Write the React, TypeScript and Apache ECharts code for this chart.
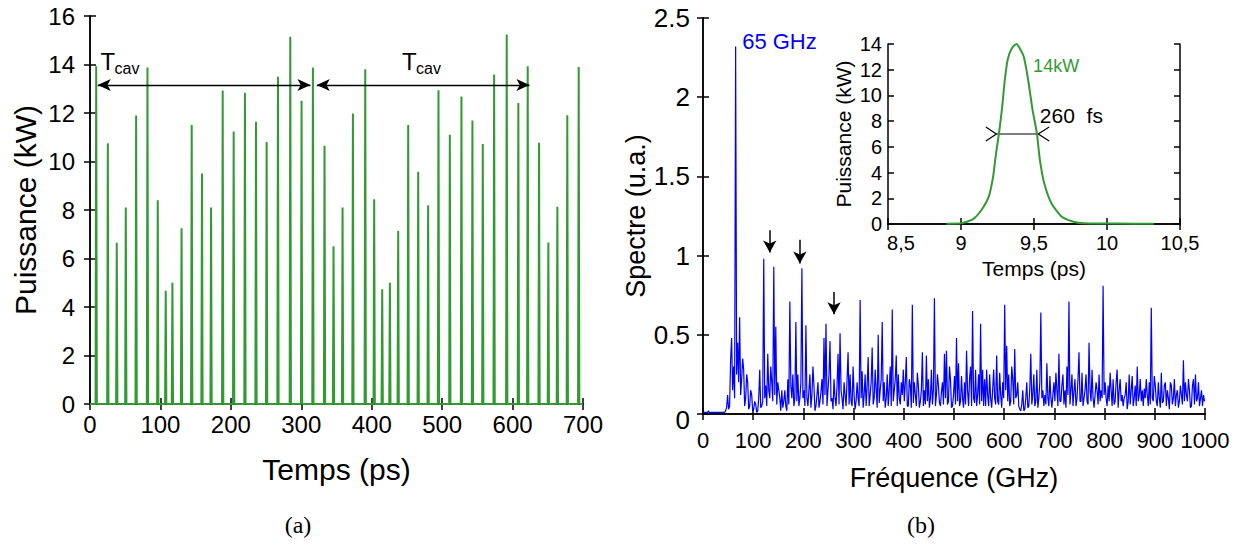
import React, { useEffect, useRef } from 'react';
import * as echarts from 'echarts';

// ---------- Data (a): pulse train ----------
const PULSE_TIMES = [
  8.8, 25.3, 38, 50.8, 65.5, 81.6, 96.2, 107.5, 117, 130, 144.4, 159, 171.9, 188.4, 204, 220,
  235.7, 250.8, 266.9, 284.4, 300.4, 316.5, 333, 345.8, 358.6, 373.3, 390.8, 403.5, 414.9, 425.8,
  437.6, 451.8, 466, 480.1, 494.8, 510.9, 527.4, 543, 557.7, 573.8, 591.7, 608.2, 621.5, 637.6,
  650.8, 663.6, 677.7, 693.9,
];
const PULSE_POWERS = [
  13.93, 10.75, 6.65, 8.1, 11.9, 13.88, 8.4, 4.67, 5.0, 7.25, 11.5, 9.5, 8.1, 12.93, 11.24, 12.83,
  11.64, 10.8, 13.49, 15.14, 12.5, 13.88, 10.65, 6.51, 8.1, 11.98, 13.8, 8.44, 4.73, 5.0,
  7.13, 11.51, 9.58, 8.2, 12.94, 11.1, 12.68, 11.69, 10.72, 13.59, 15.24, 12.41, 13.93, 10.77,
  6.66, 8.13, 11.91, 13.9,
];
const TCAV_SPANS = [[11, 313], [322, 624]];
const TCAV_Y = 13.15;

// ---------- Data (b): spectrum ----------
// values at 1, 5, 9, ... GHz
const SPEC_F0 = 1;
const SPEC_STEP = 4;
const SPECTRUM = [
  0.01, 0.01, 0.01, 0.005, 0.01, 0.01, 0.01, 0.01, 0.01, 0.01,
  0.01, 0.02, 0.12, 0.05, 0.48, 0.30, 2.32, 0.45, 0.61, 0.22,
  0.28, 0.10, 0.20, 0.05, 0.12, 0.03, 0.06, 0.02, 0.28, 0.05,
  0.98, 0.18, 0.38, 0.10, 0.20, 0.93, 0.55, 0.20, 0.10, 0.15,
  0.08, 0.05, 0.22, 0.71, 0.10, 0.05, 0.58, 0.25, 0.10, 0.92,
  0.15, 0.56, 0.05, 0.25, 0.12, 0.18, 0.05, 0.20, 0.08, 0.22,
  0.48, 0.57, 0.15, 0.46, 0.10, 0.22, 0.05, 0.38, 0.51, 0.10,
  0.20, 0.05, 0.39, 0.25, 0.05, 0.12, 0.08, 0.10, 0.72, 0.27,
  0.12, 0.05, 0.36, 0.12, 0.42, 0.10, 0.15, 0.50, 0.15, 0.58,
  0.20, 0.10, 0.05, 0.30, 0.66, 0.15, 0.37, 0.25, 0.06, 0.12,
  0.08, 0.36, 0.05, 0.18, 0.69, 0.20, 0.05, 0.18, 0.08, 0.39,
  0.15, 0.37, 0.22, 0.10, 0.06, 0.73, 0.12, 0.18, 0.05, 0.20,
  0.38, 0.40, 0.08, 0.22, 0.05, 0.24, 0.48, 0.32, 0.08, 0.10,
  0.20, 0.40, 0.05, 0.30, 0.65, 0.07, 0.05, 0.25, 0.57, 0.28,
  0.22, 0.28, 0.05, 0.10, 0.15, 0.10, 0.37, 0.06, 0.12, 0.20,
  0.69, 0.43, 0.25, 0.08, 0.22, 0.41, 0.12, 0.05, 0.02, 0.15,
  0.03, 0.20, 0.05, 0.38, 0.12, 0.05, 0.28, 0.10, 0.64, 0.15,
  0.12, 0.32, 0.05, 0.10, 0.12, 0.08, 0.15, 0.38, 0.08, 0.25,
  0.15, 0.30, 0.71, 0.15, 0.05, 0.22, 0.10, 0.39, 0.08, 0.05,
  0.15, 0.08, 0.45, 0.08, 0.10, 0.12, 0.15, 0.25, 0.15, 0.81,
  0.20, 0.05, 0.08, 0.15, 0.22, 0.08, 0.28, 0.15, 0.08, 0.05,
  0.12, 0.03, 0.25, 0.15, 0.05, 0.18, 0.30, 0.12, 0.08, 0.05,
  0.10, 0.12, 0.20, 0.67, 0.08, 0.18, 0.05, 0.10, 0.26, 0.08,
  0.20, 0.15, 0.03, 0.18, 0.10, 0.05, 0.15, 0.08, 0.12, 0.34,
  0.20, 0.08, 0.15, 0.05, 0.22, 0.25, 0.10, 0.05, 0.15, 0.12,
];
// values at 3, 7, 11, ... GHz (in between the above)
const SPECTRUM_MID = [
  0.01, 0.01, 0.02, 0.01, 0.01, 0.01, 0.01, 0.01, 0.01, 0.01,
  0.01, 0.04, 0.03, 0.34, 0.15, 0.10, 0.25, 0.20, 0.12, 0.35,
  0.05, 0.25, 0.03, 0.15, 0.02, 0.08, 0.01, 0.10, 0.04, 0.08,
  0.10, 0.05, 0.15, 0.30, 0.08, 0.12, 0.06, 0.15, 0.02, 0.04,
  0.15, 0.02, 0.06, 0.18, 0.25, 0.10, 0.08, 0.05, 0.20, 0.10,
  0.05, 0.10, 0.15, 0.04, 0.30, 0.02, 0.12, 0.04, 0.14, 0.06,
  0.12, 0.05, 0.25, 0.08, 0.03, 0.10, 0.18, 0.06, 0.15, 0.03,
  0.12, 0.22, 0.06, 0.08, 0.30, 0.03, 0.20, 0.05, 0.10, 0.04,
  0.25, 0.18, 0.05, 0.20, 0.06, 0.28, 0.04, 0.07, 0.22, 0.08,
  0.04, 0.25, 0.16, 0.05, 0.08, 0.22, 0.05, 0.10, 0.20, 0.28,
  0.20, 0.05, 0.22, 0.04, 0.07, 0.12, 0.26, 0.04, 0.15, 0.05,
  0.06, 0.08, 0.04, 0.28, 0.15, 0.05, 0.25, 0.07, 0.14, 0.06,
  0.10, 0.06, 0.30, 0.04, 0.12, 0.06, 0.08, 0.05, 0.24, 0.04,
  0.06, 0.15, 0.22, 0.05, 0.10, 0.28, 0.12, 0.06, 0.08, 0.05,
  0.05, 0.12, 0.25, 0.04, 0.28, 0.06, 0.08, 0.26, 0.04, 0.10,
  0.15, 0.08, 0.05, 0.30, 0.06, 0.10, 0.20, 0.03, 0.06, 0.02,
  0.10, 0.04, 0.16, 0.06, 0.25, 0.08, 0.04, 0.20, 0.10, 0.05,
  0.06, 0.10, 0.24, 0.04, 0.20, 0.26, 0.05, 0.08, 0.18, 0.06,
  0.04, 0.12, 0.06, 0.25, 0.14, 0.05, 0.22, 0.08, 0.26, 0.10,
  0.25, 0.06, 0.15, 0.28, 0.04, 0.20, 0.06, 0.08, 0.10, 0.12,
  0.10, 0.18, 0.26, 0.05, 0.06, 0.20, 0.04, 0.22, 0.12, 0.10,
  0.20, 0.08, 0.06, 0.24, 0.10, 0.05, 0.08, 0.22, 0.15, 0.16,
  0.22, 0.05, 0.06, 0.10, 0.24, 0.08, 0.20, 0.04, 0.07, 0.18,
  0.05, 0.10, 0.20, 0.06, 0.22, 0.12, 0.04, 0.18, 0.06, 0.08,
  0.12, 0.22, 0.04, 0.18, 0.06, 0.08, 0.20, 0.10, 0.05, 0.08,
];
// down arrows: [GHz, top, tip]
const SPEC_ARROWS = [[133, 1.16, 1.02], [193, 1.10, 0.95], [261, 0.77, 0.63]];

// ---------- Data inset: single pulse ----------
const INSET_T = [8.9, 9.0, 9.08, 9.14, 9.19, 9.22, 9.24, 9.26, 9.28, 9.30, 9.32, 9.35, 9.38, 9.40, 9.43, 9.46, 9.49, 9.52, 9.54, 9.57, 9.62, 9.69, 9.77, 9.84, 10.07, 10.32];
const INSET_P = [0.02, 0.05, 0.36, 1.09, 2.13, 3.69, 5.5, 7.04, 8.88, 11.2, 12.8, 13.7, 14.0, 13.7, 13.0, 11.2, 8.88, 7.04, 5.0, 3.17, 1.6, 0.57, 0.18, 0.05, 0.03, 0.02];
const FWHM = [9.243, 9.529, 7.0];

const GREEN = '#339a33';
const BLUE = '#0000ff';
const FONT = 'Liberation Sans, Arial, sans-serif';
const SERIF = 'Liberation Serif, DejaVu Serif, serif';

export default function App() {
  const ref = useRef<HTMLDivElement>(null);
  useEffect(() => {
    const chart = echarts.init(ref.current!, null, { renderer: 'svg' });

    const pulseData: number[][] = [[0, 0]];
    PULSE_TIMES.forEach((t, i) => {
      pulseData.push([t - 0.9, 0], [t, PULSE_POWERS[i]], [t + 0.9, 0]);
    });
    pulseData.push([700, 0]);
    const specData: number[][] = [];
    SPECTRUM.forEach((v, i) => {
      const f = SPEC_F0 + i * SPEC_STEP;
      specData.push([f, v], [f + SPEC_STEP / 2, SPECTRUM_MID[i]]);
    });
    const insetData = INSET_T.map((t, i) => [t, INSET_P[i]]);

    const line = { show: true, lineStyle: { color: '#000', width: 1.5 } };
    const tick = { show: true, inside: true, length: 6, lineStyle: { color: '#000', width: 1.5 } };
    const mkX = (gi: number, min: number, max: number, interval: number, label: any, name?: any) => [
      {
        gridIndex: gi, type: 'value', min, max, interval, position: 'bottom',
        axisLine: line, axisTick: tick, splitLine: { show: false },
        axisLabel: { color: '#000', fontFamily: FONT, formatter: (v: number) => String(v), ...label },
        ...(name || {}),
      },
      {
        gridIndex: gi, type: 'value', min, max, interval, position: 'top',
        axisLine: line, axisTick: tick, splitLine: { show: false }, axisLabel: { show: false },
      },
    ];
    const mkY = (gi: number, min: number, max: number, interval: number, label: any, name?: any) => [
      {
        gridIndex: gi, type: 'value', min, max, interval, position: 'left',
        axisLine: line, axisTick: tick, splitLine: { show: false },
        axisLabel: { color: '#000', fontFamily: FONT, formatter: (v: number) => String(v), ...label },
        ...(name || {}),
      },
      {
        gridIndex: gi, type: 'value', min, max, interval, position: 'right',
        axisLine: line, axisTick: tick, splitLine: { show: false }, axisLabel: { show: false },
      },
    ];
    const nm = (text: string, gap: number, size: number) => ({
      name: text, nameLocation: 'middle', nameGap: gap,
      nameTextStyle: { color: '#000', fontSize: size, fontFamily: FONT },
    });

    chart.setOption({
      animation: false,
      grid: [
        { left: 90, top: 16, width: 493, height: 388 },
        { left: 703, top: 18, width: 502, height: 396 },
        { left: 888, top: 44, width: 292, height: 180 },
      ],
      xAxis: [
        ...mkX(0, 0, 700, 100, { fontSize: 24, margin: 8 }, nm('Temps (ps)', 50, 30)),
        ...mkX(1, 0, 1000, 100, { fontSize: 22, margin: 15 }, nm('Fréquence (GHz)', 50, 27)),
        ...mkX(2, 8.5, 10.5, 0.5, {
          fontSize: 20, margin: 9,
          formatter: (v: number) => (v === 8.5 ? '{a|8,5}' : String(v).replace('.', ',')),
          rich: { a: { fontSize: 20, fontFamily: FONT, color: '#000', padding: [0, 0, 0, 26] } },
        }, nm('Temps (ps)', 34, 21)),
      ],
      yAxis: [
        ...mkY(0, 0, 16, 2, { fontSize: 24, margin: 15 }, nm('Puissance (kW)', 50, 30)),
        ...mkY(1, 0, 2.5, 0.5, {
          fontSize: 26, margin: 13,
          formatter: (v: number) => (v === 0 ? '{z|0}' : String(v)),
          rich: { z: { fontSize: 26, fontFamily: FONT, color: '#000', padding: [12, 0, 0, 0] } },
        }, nm('Spectre (u.a.)', 52, 27)),
        ...mkY(2, 0, 14, 2, { fontSize: 20, margin: 6 }, nm('Puissance (kW)', 34, 21)),
      ],
      series: [
        {
          type: 'line', xAxisIndex: 0, yAxisIndex: 0, data: pulseData, symbol: 'none',
          lineStyle: { color: GREEN, width: 2 }, silent: true,
          markLine: {
            silent: true, symbol: ['arrow', 'arrow'], symbolSize: [9, 13],
            label: { show: false }, lineStyle: { color: '#000', width: 1.3, type: 'solid' },
            data: TCAV_SPANS.map(([a, b]) => [{ coord: [a, TCAV_Y] }, { coord: [b, TCAV_Y] }]),
          },
        },
        {
          type: 'line', xAxisIndex: 2, yAxisIndex: 2, data: specData, symbol: 'none',
          lineStyle: { color: BLUE, width: 1.2 }, silent: true,
          markLine: {
            silent: true, symbol: ['none', 'arrow'], symbolSize: [10, 12],
            label: { show: false }, lineStyle: { color: '#000', width: 1.5, type: 'solid' },
            data: SPEC_ARROWS.map(([f, top, tip]) => [{ coord: [f, top] }, { coord: [f, tip] }]),
          },
        },
        {
          type: 'line', xAxisIndex: 4, yAxisIndex: 4, data: insetData, symbol: 'none', smooth: 0.2,
          lineStyle: { color: GREEN, width: 2 }, silent: true,
        },
      ],
    });

    const p = (s: number, x: number, y: number) => chart.convertToPixel({ seriesIndex: s }, [x, y]) as number[];
    const txt = (pt: number[], text: string, size: number, fill: string, align = 'left', family = FONT) => ({
      type: 'text', x: pt[0], y: pt[1], silent: true,
      style: { text, fill, fontSize: size, fontFamily: family, align, verticalAlign: 'middle' },
    });
    const t1 = p(0, 14.9, 14.14);
    const t2 = p(0, 443, 14.14);
    const fl = p(2, FWHM[0], FWHM[2]);
    const fr = p(2, FWHM[1], FWHM[2]);
    const fl0 = p(2, FWHM[0] - 0.073, FWHM[2]);
    const fr0 = p(2, FWHM[1] + 0.075, FWHM[2]);
    const poly = (pts: number[][]) => ({
      type: 'polyline', silent: true, shape: { points: pts },
      style: { stroke: '#000', lineWidth: 1.2, fill: null },
    });
    chart.setOption({
      graphic: [
        txt(t1, 'T', 24, '#000'),
        txt([t1[0] + 14, t1[1] + 7], 'cav', 16, '#000'),
        txt(t2, 'T', 24, '#000'),
        txt([t2[0] + 14, t2[1] + 7], 'cav', 16, '#000'),
        txt(p(1, 78, 2.35), '65 GHz', 22, BLUE),
        txt(p(2, 9.494, 12.26), '14kW', 18, GREEN),
        txt(p(2, 9.54, 8.44), '260  fs', 21, '#000'),
        poly([fl, fr]),
        poly([[fl0[0], fl0[1] - 7], fl, [fl0[0], fl0[1] + 7]]),
        poly([[fr0[0], fr0[1] - 7], fr, [fr0[0], fr0[1] + 7]]),
        txt([298, 525], '(a)', 24, '#000', 'center', SERIF),
        txt([921, 525], '(b)', 24, '#000', 'center', SERIF),
      ],
    });

    return () => chart.dispose();
  }, []);
  return <div ref={ref} style={{ position: 'absolute', left: 0, top: 0, width: 1244, height: 545 }} />;
}
